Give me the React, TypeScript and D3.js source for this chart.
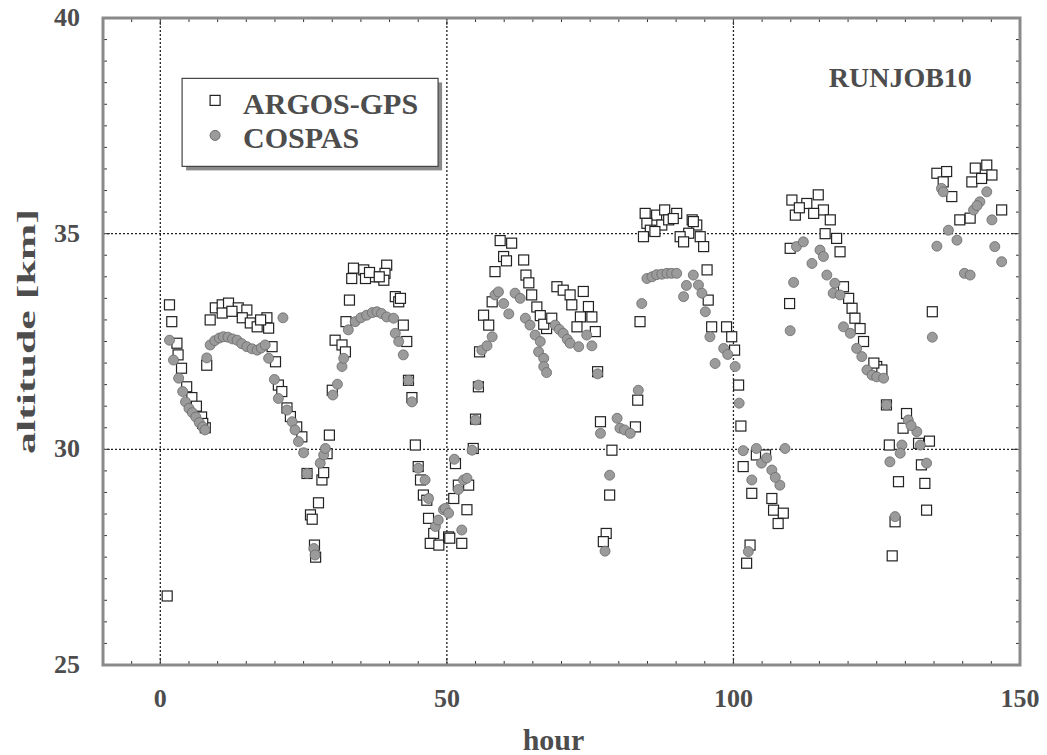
import React, { useRef, useEffect } from 'react';
import * as d3 from 'd3';

// ARGOS-GPS altitude fixes: [hour, km]
const argosGps: [number, number][] = [
  [1.2, 26.6], [1.6, 33.35], [2.0, 32.96], [2.9, 32.46], [3.1, 32.19], [3.7, 31.88], [4.6, 31.45],
  [5.5, 31.2], [6.3, 31.0], [7.2, 30.75], [7.85, 30.5], [7.4, 30.6], [8.1, 31.95], [8.7, 33.0],
  [9.6, 33.28], [10.8, 33.35], [11.9, 33.39], [10.8, 33.16], [13.6, 33.28], [15.1, 33.23], [14.3, 33.05],
  [15.7, 32.93], [16.9, 32.84], [18.6, 33.05], [18.9, 32.81], [12.5, 33.2], [17.5, 33.0], [19.5, 32.38],
  [20.1, 32.03], [20.6, 31.49], [21.2, 31.34], [22.1, 30.96], [22.7, 30.76], [23.8, 30.52], [24.7, 30.29],
  [25.6, 29.44], [28.2, 29.29], [28.5, 29.46], [29.5, 30.33], [29.1, 29.9], [27.6, 28.76], [26.2, 28.48],
  [26.5, 28.38], [26.9, 27.78], [27.1, 27.5],
  [30.5, 32.53], [31.7, 32.42], [32.3, 32.26], [30.0, 31.37], [32.4, 32.96], [33.0, 33.46], [33.7, 34.2],
  [35.5, 34.16], [37.2, 34.0], [39.5, 34.27], [39.2, 34.08], [39.0, 33.92], [33.4, 33.96], [35.8, 33.96],
  [36.5, 34.1], [38.2, 34.0], [41.0, 33.54], [41.6, 33.42], [41.9, 33.5], [42.4, 32.88], [43.0, 32.5],
  [43.3, 31.6], [43.9, 31.2], [44.5, 30.1], [45.0, 29.6], [45.4, 29.29], [45.9, 28.94], [46.5, 28.82],
  [46.8, 28.4], [47.7, 28.05], [47.1, 27.82], [48.6, 27.78], [50.3, 27.97], [52.6, 27.82], [50.5, 27.94],
  [51.5, 29.67], [52.0, 29.17], [53.8, 29.17], [53.5, 28.6], [51.2, 28.86], [54.6, 30.02], [55.0, 30.7],
  [55.5, 31.45], [55.7, 32.26], [56.4, 33.11], [57.3, 32.88], [57.9, 33.42], [58.4, 34.12], [59.3, 34.84],
  [61.3, 34.78], [59.9, 34.47], [60.4, 34.37], [63.4, 34.39], [63.8, 34.04], [64.3, 33.86], [64.8, 33.58],
  [65.7, 33.3], [66.3, 33.1], [67.4, 32.8], [66.9, 32.9], [68.3, 33.04], [69.2, 33.77], [70.3, 33.69],
  [71.5, 33.58], [73.8, 33.66], [71.8, 33.35], [74.7, 33.31], [75.3, 33.07], [73.3, 33.07], [72.7, 32.84],
  [75.9, 32.73], [76.3, 31.8], [76.8, 30.64], [78.8, 29.98], [78.4, 28.94], [77.8, 28.05], [77.3, 27.86],
  [82.9, 30.52], [83.3, 31.14], [83.7, 32.96],
  [84.6, 35.47], [86.6, 35.43], [88.0, 35.55], [90.1, 35.47], [84.9, 35.24], [85.5, 35.08], [87.5, 35.2],
  [88.7, 35.32], [84.3, 34.93], [86.3, 35.05], [92.8, 35.32], [93.6, 35.2], [92.2, 35.01], [90.7, 34.93],
  [91.3, 34.81], [94.2, 34.93], [94.8, 34.7], [93.0, 35.28], [89.5, 35.35], [95.4, 34.16], [95.6, 33.46],
  [96.2, 32.84], [98.8, 32.84], [99.7, 32.61], [100.2, 32.3], [100.9, 31.49], [101.3, 30.54], [101.7, 29.6],
  [102.9, 27.78], [102.3, 27.36],
  [103.2, 28.98], [104.0, 29.87], [105.6, 29.87], [106.7, 28.86], [107.0, 28.59], [108.7, 28.52], [107.8, 28.28],
  [109.8, 33.38], [109.9, 34.66], [110.2, 35.78], [110.8, 35.43], [112.8, 35.7], [114.8, 35.9], [115.7, 35.55],
  [116.9, 35.32], [114.0, 35.47], [111.5, 35.6], [116.0, 35.0], [118.0, 34.89], [118.6, 34.58], [119.2, 33.77],
  [120.1, 33.5], [120.7, 33.27], [121.2, 33.04], [122.1, 32.8], [122.7, 32.5], [125.0, 31.92], [125.9, 31.84],
  [124.5, 32.0], [126.7, 31.03], [130.2, 30.83], [129.6, 30.49], [134.2, 30.19], [132.3, 30.14], [127.2, 30.1],
  [132.8, 29.64], [128.8, 29.25], [133.4, 29.21], [133.7, 28.59], [128.2, 28.32], [127.7, 27.53],
  [134.7, 33.19], [135.5, 36.4], [137.2, 36.44], [136.6, 36.2], [138.1, 35.86], [142.2, 36.52], [144.2, 36.59],
  [145.1, 36.36], [141.6, 36.2], [143.3, 36.28], [146.8, 35.55], [139.5, 35.32], [141.3, 35.36],
];

// COSPAS altitude fixes: [hour, km]
const cospas: [number, number][] = [
  [1.6, 32.53], [2.3, 32.07], [3.2, 31.65], [3.9, 31.34], [4.4, 31.1], [5.0, 30.95], [5.6, 30.85],
  [6.2, 30.75], [6.8, 30.62], [7.4, 30.52], [7.8, 30.45], [8.1, 32.12], [8.7, 32.42], [9.5, 32.52],
  [10.3, 32.58], [11.0, 32.61], [11.8, 32.6], [12.6, 32.56], [13.4, 32.53], [14.2, 32.45], [15.1, 32.38],
  [16.0, 32.33], [16.9, 32.3], [17.6, 32.35], [18.3, 32.42], [18.9, 32.11], [21.4, 33.05], [19.9, 31.62],
  [20.6, 31.18], [22.1, 30.91], [23.0, 30.64], [23.5, 30.45], [24.1, 30.18], [25.0, 29.92], [25.6, 29.44],
  [27.9, 29.68], [28.5, 29.87], [28.8, 30.02], [26.8, 27.7], [27.0, 27.55],
  [30.1, 31.26], [30.9, 31.51], [31.7, 31.92], [32.0, 32.11], [32.8, 32.77], [34.0, 32.96], [35.0, 33.05],
  [36.0, 33.11], [37.0, 33.17], [37.8, 33.19], [38.6, 33.15], [39.5, 33.07], [40.7, 33.04], [41.0, 32.69],
  [41.6, 32.5], [42.4, 32.19], [43.3, 31.6], [43.9, 31.1], [45.0, 29.56], [46.2, 29.29], [46.8, 28.86],
  [48.0, 28.21], [48.5, 28.36], [49.4, 28.6], [49.7, 28.63], [50.3, 28.52], [51.3, 29.77], [52.0, 29.07],
  [52.9, 29.29], [53.5, 29.33], [52.6, 28.13], [54.4, 29.98],
  [55.0, 30.68], [55.5, 31.49], [56.1, 32.3], [57.0, 32.4], [57.9, 32.61], [58.4, 33.58], [59.0, 33.65],
  [59.9, 33.38], [60.8, 33.14], [61.9, 33.62], [62.8, 33.5], [63.7, 33.04], [64.5, 32.88], [65.4, 32.65],
  [66.0, 32.26], [66.3, 32.5], [66.9, 32.11], [66.9, 31.92], [67.4, 31.78], [68.9, 32.88], [69.6, 32.78],
  [70.3, 32.69], [71.0, 32.55], [71.5, 32.46], [73.0, 32.38], [74.4, 32.65], [75.3, 32.4], [76.3, 31.75],
  [76.8, 30.37], [79.7, 30.72], [80.2, 30.49], [81.0, 30.45], [82.0, 30.37], [78.4, 29.4], [77.6, 27.64],
  [83.4, 31.37], [84.0, 33.38],
  [84.9, 33.96], [85.8, 34.0], [86.6, 34.05], [87.5, 34.06], [88.4, 34.08], [89.2, 34.08], [90.1, 34.08],
  [91.3, 33.54], [91.8, 33.8], [93.0, 34.04], [93.9, 33.81], [94.5, 33.62], [95.1, 33.19], [95.9, 32.61],
  [96.8, 31.99], [98.3, 32.34], [99.0, 32.2], [100.3, 31.92], [101.0, 31.07], [101.7, 29.97], [102.6, 27.63],
  [104.0, 30.02], [104.9, 29.68], [106.7, 29.52], [108.1, 29.17], [103.2, 29.29], [109.0, 30.02], [105.8, 29.8],
  [107.3, 29.35], [109.9, 32.75], [110.5, 33.87], [111.0, 34.7], [112.2, 34.81], [113.7, 34.31], [115.1, 34.62],
  [115.7, 34.47], [116.3, 34.04], [117.7, 33.85], [117.4, 33.62], [118.6, 33.58], [119.2, 32.84], [120.4, 32.69],
  [121.5, 32.34], [122.4, 32.15], [123.3, 31.84], [124.2, 31.72], [125.0, 31.68], [126.2, 31.65], [126.7, 31.03],
  [130.5, 30.68], [132.0, 30.41], [132.6, 30.1], [133.7, 29.68], [129.4, 30.1], [129.1, 29.91], [127.3, 29.71],
  [128.2, 28.44], [131.0, 30.55],
  [134.7, 32.6], [135.5, 34.71], [136.3, 36.05], [136.6, 35.97], [137.5, 35.08], [139.0, 34.85], [140.3, 34.08],
  [141.3, 34.04], [141.9, 35.55], [143.0, 35.74], [144.2, 35.97], [145.1, 35.32], [145.6, 34.7], [146.8, 34.35],
  [142.5, 35.65],
];

const xTicks = [0, 50, 100, 150];
const yTicks = [25, 30, 35, 40];
const xGrid = [0, 50, 100];
const yGrid = [30, 35];
const legendLabels = ['ARGOS-GPS', 'COSPAS'];
const title = 'RUNJOB10';

const ink = '#4d4d4d';
const font = '"Liberation Serif", "DejaVu Serif", serif';

const App = () => {
  const svgRef = useRef<SVGSVGElement>(null);

  useEffect(() => {
    const W = 1047;
    const H = 755;
    const margin = { top: 18, right: 27, bottom: 90, left: 103 };
    const width = W - margin.left - margin.right;
    const height = H - margin.top - margin.bottom;

    d3.select(svgRef.current).selectAll('*').remove();

    const root = d3
      .select(svgRef.current)
      .attr('width', W)
      .attr('height', H)
      .style('font-family', font);

    root.append('rect').attr('width', W).attr('height', H).attr('fill', '#fff');

    const svg = root.append('g').attr('transform', `translate(${margin.left},${margin.top})`);

    const x = d3.scaleLinear().domain([-10, 150]).range([0, width]);
    const y = d3.scaleLinear().domain([25, 40]).range([height, 0]);

    // dotted grid lines
    svg
      .selectAll('.gx')
      .data(xGrid)
      .join('line')
      .attr('x1', (d) => x(d))
      .attr('x2', (d) => x(d))
      .attr('y1', 0)
      .attr('y2', height)
      .attr('stroke', '#222')
      .attr('stroke-width', 1.3)
      .attr('stroke-dasharray', '2 2');

    svg
      .selectAll('.gy')
      .data(yGrid)
      .join('line')
      .attr('x1', 0)
      .attr('x2', width)
      .attr('y1', (d) => y(d))
      .attr('y2', (d) => y(d))
      .attr('stroke', '#222')
      .attr('stroke-width', 1.3)
      .attr('stroke-dasharray', '2 2');

    // inward tick marks on all four sides
    const minorX = d3.range(-5, 150, 5);
    const minorY = d3.range(25.5, 40, 0.5);
    const tickLen = (major: boolean) => (major ? 7 : 4);

    minorX.forEach((v) => {
      const major = v % 50 === 0;
      svg.append('line').attr('x1', x(v)).attr('x2', x(v)).attr('y1', height).attr('y2', height - tickLen(major))
        .attr('stroke', '#333').attr('stroke-width', 1);
      svg.append('line').attr('x1', x(v)).attr('x2', x(v)).attr('y1', 0).attr('y2', tickLen(major))
        .attr('stroke', '#333').attr('stroke-width', 1);
    });
    minorY.forEach((v) => {
      const major = v % 5 === 0;
      svg.append('line').attr('x1', 0).attr('x2', tickLen(major)).attr('y1', y(v)).attr('y2', y(v))
        .attr('stroke', '#333').attr('stroke-width', 1);
      svg.append('line').attr('x1', width).attr('x2', width - tickLen(major)).attr('y1', y(v)).attr('y2', y(v))
        .attr('stroke', '#333').attr('stroke-width', 1);
    });

    // ARGOS-GPS squares
    const s = 10;
    svg
      .selectAll('.sq')
      .data(argosGps)
      .join('rect')
      .attr('x', (d) => x(d[0]) - s / 2)
      .attr('y', (d) => y(d[1]) - s / 2)
      .attr('width', s)
      .attr('height', s)
      .attr('fill', '#fff')
      .attr('stroke', '#222')
      .attr('stroke-width', 1.2);

    // COSPAS circles
    svg
      .selectAll('.ci')
      .data(cospas)
      .join('circle')
      .attr('cx', (d) => x(d[0]))
      .attr('cy', (d) => y(d[1]))
      .attr('r', 5)
      .attr('fill', '#9b9b9b')
      .attr('stroke', '#6a6a6a')
      .attr('stroke-width', 0.8);

    // frame
    svg
      .append('rect')
      .attr('x', 0)
      .attr('y', 0)
      .attr('width', width)
      .attr('height', height)
      .attr('fill', 'none')
      .attr('stroke', '#8a8a8a')
      .attr('stroke-width', 3);

    // legend box with shadow
    const lg = svg.append('g').attr('transform', `translate(${x(3.8)},${y(38.6)})`);
    lg.append('rect').attr('x', 4).attr('y', 4).attr('width', 256).attr('height', 88).attr('fill', '#8a8a8a');
    lg.append('rect').attr('width', 256).attr('height', 88).attr('fill', '#fff').attr('stroke', '#444').attr('stroke-width', 1.2);
    lg.append('rect').attr('x', 28).attr('y', 17).attr('width', s).attr('height', s)
      .attr('fill', '#fff').attr('stroke', '#222').attr('stroke-width', 1.2);
    lg.append('circle').attr('cx', 33).attr('cy', 57).attr('r', 5).attr('fill', '#9b9b9b').attr('stroke', '#6a6a6a');
    lg.selectAll('text')
      .data(legendLabels)
      .join('text')
      .attr('x', 61)
      .attr('y', (d, i) => 36 + i * 34)
      .attr('fill', ink)
      .style('font-size', '30px')
      .style('font-weight', 'bold')
      .text((d) => d);

    // run label
    svg
      .append('text')
      .attr('x', x(141.6))
      .attr('y', y(38.4))
      .attr('text-anchor', 'end')
      .attr('fill', ink)
      .style('font-size', '28px')
      .style('font-weight', 'bold')
      .text(title);

    // tick labels
    svg
      .selectAll('.xl')
      .data(xTicks)
      .join('text')
      .attr('x', (d) => x(d))
      .attr('y', height + 42)
      .attr('text-anchor', 'middle')
      .attr('fill', ink)
      .style('font-size', '26px')
      .style('font-weight', 'bold')
      .text((d) => d);

    svg
      .selectAll('.yl')
      .data(yTicks)
      .join('text')
      .attr('x', -23)
      .attr('y', (d) => y(d) + 8)
      .attr('text-anchor', 'end')
      .attr('fill', ink)
      .style('font-size', '26px')
      .style('font-weight', 'bold')
      .text((d) => d);

    // axis titles
    svg
      .append('text')
      .attr('x', width / 2 - 8)
      .attr('y', height + 85)
      .attr('text-anchor', 'middle')
      .attr('fill', ink)
      .style('font-size', '30px')
      .style('font-weight', 'bold')
      .text('hour');

    svg
      .append('text')
      .attr('transform', `translate(${-68},${height / 2 - 10}) rotate(-90)`)
      .attr('text-anchor', 'middle')
      .attr('fill', ink)
      .attr('textLength', 245)
      .attr('lengthAdjust', 'spacingAndGlyphs')
      .style('font-size', '25px')
      .style('font-weight', 'bold')
      .text('altitude [km]');
  }, []);

  return <svg ref={svgRef} style={{ position: 'absolute', left: 0, top: 0 }}></svg>;
};

export default App;
